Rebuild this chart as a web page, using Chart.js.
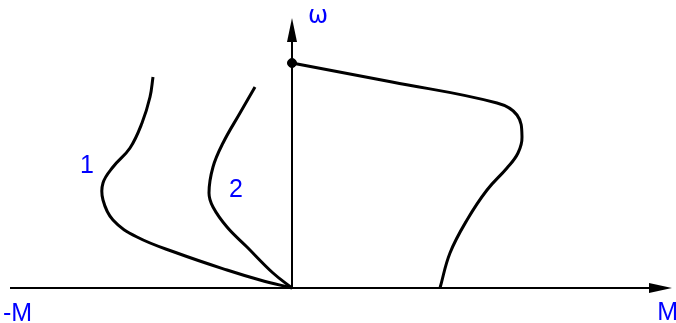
<!DOCTYPE html>
<html>
<head>
<meta charset="utf-8">
<script src="https://cdn.jsdelivr.net/npm/chart.js@4/dist/chart.umd.min.js"></script>
<style>
  html, body { margin: 0; padding: 0; background: #fff; }
  #wrap { width: 676px; height: 323px; }
</style>
</head>
<body>
<div id="wrap"><canvas id="c" width="676" height="323"></canvas></div>
<script>
// Torque (M) vs speed (ω) characteristics, in axis units with the origin at (0, 0).
const motorM = [0, 100, 205, 225, 230, 226, 215, 195, 175, 158, 148];
const motorW = [225, 206, 185, 173, 151, 135, 120, 98, 68, 35, 0];

const curve1M = [-139, -142, -150, -162, -179, -189, -189, -179, -155, -115, -65, -32, 0];
const curve1W = [211, 191, 165, 140, 121, 105, 88, 68, 51, 35, 18, 8, 0];

const curve2M = [-37, -52, -69, -79, -83, -79, -65, -45, -19, 0];
const curve2W = [201, 175, 145, 121, 95, 81, 61, 41, 15, 0];

// No-load point on the ω axis
const idleM = [0];
const idleW = [225];

// Axis extents and text labels
const axisM = [-282, 380];
const axisW = [0, 270];
const curveLabels = ['1', '2'];
const curveLabelM = [-205, -56];
const curveLabelW = [122, 98];

const toPoints = (xs, ys) => xs.map((x, i) => ({ x: x, y: ys[i] }));

const axesAndLabels = {
  id: 'axesAndLabels',
  afterDatasetsDraw(chart) {
    const { ctx, scales: { x, y } } = chart;
    ctx.save();
    ctx.strokeStyle = '#000';
    ctx.fillStyle = '#000';
    ctx.lineWidth = 2;
    // horizontal axis with arrow
    const y0 = y.getPixelForValue(0);
    const xa = x.getPixelForValue(axisM[0]);
    const xb = x.getPixelForValue(axisM[1]);
    ctx.beginPath(); ctx.moveTo(xa, y0); ctx.lineTo(xb - 10, y0); ctx.stroke();
    ctx.beginPath();
    ctx.moveTo(xb, y0); ctx.lineTo(xb - 23, y0 - 5); ctx.lineTo(xb - 23, y0 + 5); ctx.closePath(); ctx.fill();
    // vertical axis with arrow
    const x0 = x.getPixelForValue(0);
    const ya = y.getPixelForValue(axisW[0]);
    const yb = y.getPixelForValue(axisW[1]);
    ctx.beginPath(); ctx.moveTo(x0, ya); ctx.lineTo(x0, yb + 10); ctx.stroke();
    ctx.beginPath();
    ctx.moveTo(x0, yb); ctx.lineTo(x0 - 5, yb + 24); ctx.lineTo(x0 + 5, yb + 24); ctx.closePath(); ctx.fill();

    // text labels
    ctx.fillStyle = '#0000ff';
    ctx.textAlign = 'center';
    ctx.textBaseline = 'middle';
    ctx.font = '25px "Liberation Sans", Arial, sans-serif';
    curveLabels.forEach((t, i) => {
      ctx.fillText(t, x.getPixelForValue(curveLabelM[i]), y.getPixelForValue(curveLabelW[i]));
    });
    ctx.textBaseline = 'alphabetic';
    ctx.textAlign = 'left';
    ctx.fillText('-M', 3, 321);
    ctx.textAlign = 'right';
    ctx.fillText('M', 678, 320);
    ctx.textAlign = 'center';
    ctx.font = '24px "DejaVu Sans", sans-serif';
    ctx.fillText('ω', x0 + 26, 23);
    ctx.restore();
  }
};

const lineStyle = { borderColor: '#000', borderWidth: 3, pointRadius: 0, showLine: true, tension: 0.4, fill: false };

new Chart(document.getElementById('c'), {
  type: 'scatter',
  data: {
    datasets: [
      Object.assign({ data: toPoints(motorM, motorW) }, lineStyle),
      Object.assign({ data: toPoints(curve1M, curve1W) }, lineStyle),
      Object.assign({ data: toPoints(curve2M, curve2W) }, lineStyle),
      { data: toPoints(idleM, idleW), pointRadius: 4.5, pointBackgroundColor: '#000', pointBorderColor: '#000', showLine: false }
    ]
  },
  options: {
    responsive: false,
    animation: false,
    layout: { padding: 0, autoPadding: false },
    plugins: { legend: { display: false }, tooltip: { enabled: false } },
    scales: {
      x: { type: 'linear', min: -292, max: 384, display: false },
      y: { type: 'linear', min: -35, max: 288, display: false }
    }
  },
  plugins: [axesAndLabels]
});
</script>
</body>
</html>
